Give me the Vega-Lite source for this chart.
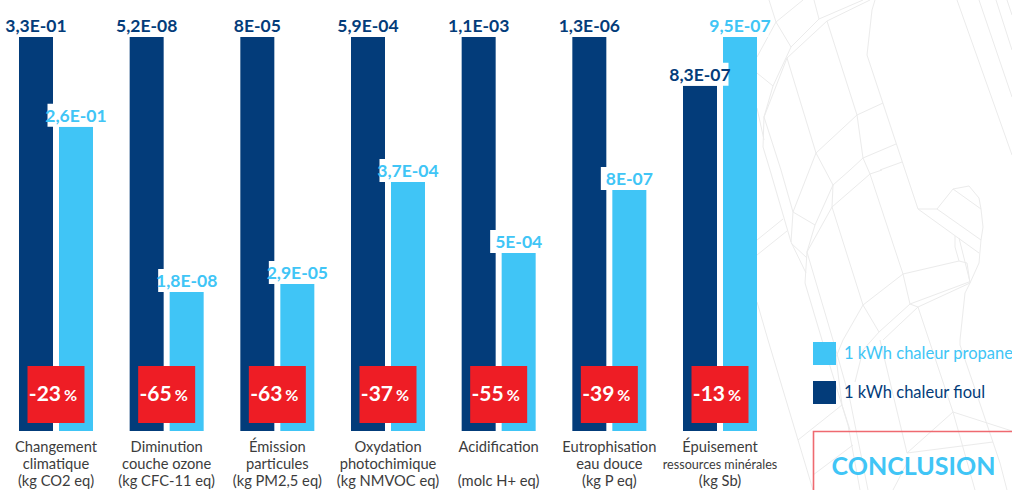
{"$schema":"https://vega.github.io/schema/vega-lite/v6.json","width":1012,"height":490,"padding":0,"autosize":{"type":"none"},"background":"white","config":{"view":{"stroke":null}},
"datasets":{
"barres":[
{"categorie":"cc","serie":"1 kWh chaleur fioul","indice":100,"valeur":"3,3E-01"},{"categorie":"cc","serie":"1 kWh chaleur propane","indice":77.2,"valeur":"2,6E-01"},
{"categorie":"co","serie":"1 kWh chaleur fioul","indice":100,"valeur":"5,2E-08"},{"categorie":"co","serie":"1 kWh chaleur propane","indice":35.3,"valeur":"1,8E-08"},
{"categorie":"ep","serie":"1 kWh chaleur fioul","indice":100,"valeur":"8E-05"},{"categorie":"ep","serie":"1 kWh chaleur propane","indice":37.3,"valeur":"2,9E-05"},
{"categorie":"op","serie":"1 kWh chaleur fioul","indice":100,"valeur":"5,9E-04"},{"categorie":"op","serie":"1 kWh chaleur propane","indice":63.2,"valeur":"3,7E-04"},
{"categorie":"ac","serie":"1 kWh chaleur fioul","indice":100,"valeur":"1,1E-03"},{"categorie":"ac","serie":"1 kWh chaleur propane","indice":45.2,"valeur":"5E-04"},
{"categorie":"eu","serie":"1 kWh chaleur fioul","indice":100,"valeur":"1,3E-06"},{"categorie":"eu","serie":"1 kWh chaleur propane","indice":61.2,"valeur":"8E-07"},
{"categorie":"rm","serie":"1 kWh chaleur fioul","indice":87.6,"valeur":"8,3E-07"},{"categorie":"rm","serie":"1 kWh chaleur propane","indice":100,"valeur":"9,5E-07"}],
"categories":[
{"categorie":"cc","ecart":"-23","l1":"Changement","l2":"climatique","l3":"(kg CO2 eq)"},
{"categorie":"co","ecart":"-65","l1":"Diminution","l2":"couche ozone","l3":"(kg CFC-11 eq)"},
{"categorie":"ep","ecart":"-63","l1":"Émission","l2":"particules","l3":"(kg PM2,5 eq)"},
{"categorie":"op","ecart":"-37","l1":"Oxydation","l2":"photochimique","l3":"(kg NMVOC eq)"},
{"categorie":"ac","ecart":"-55","l1":"Acidification","l2":" ","l3":"(molc H+ eq)"},
{"categorie":"eu","ecart":"-39","l1":"Eutrophisation","l2":"eau douce","l3":"(kg P eq)"},
{"categorie":"rm","ecart":"-13","l1":"Épuisement","l2":"ressources minérales","l3":"(kg Sb)"}],
"carte":[
{"t":1,"o":1,"lon":769,"lat":0},{"t":1,"o":2,"lon":776,"lat":22},{"t":1,"o":3,"lon":791,"lat":47},
{"t":2,"o":1,"lon":803,"lat":0},{"t":2,"o":2,"lon":776,"lat":22},{"t":2,"o":3,"lon":757,"lat":57},
{"t":3,"o":1,"lon":814,"lat":0},{"t":3,"o":2,"lon":819,"lat":19},{"t":3,"o":3,"lon":791,"lat":47},{"t":3,"o":4,"lon":773,"lat":86},{"t":3,"o":5,"lon":764,"lat":117},{"t":3,"o":6,"lon":763,"lat":147},{"t":3,"o":7,"lon":770,"lat":170},{"t":3,"o":8,"lon":791,"lat":242},{"t":3,"o":9,"lon":806,"lat":273},
{"t":4,"o":1,"lon":863,"lat":0},{"t":4,"o":2,"lon":819,"lat":19},
{"t":5,"o":1,"lon":870,"lat":0},{"t":5,"o":2,"lon":827,"lat":21},{"t":5,"o":3,"lon":787,"lat":58},{"t":5,"o":4,"lon":764,"lat":117},{"t":5,"o":5,"lon":781,"lat":170},{"t":5,"o":6,"lon":793,"lat":212},{"t":5,"o":7,"lon":791,"lat":242},
{"t":6,"o":1,"lon":757,"lat":73},{"t":6,"o":2,"lon":773,"lat":86},
{"t":7,"o":1,"lon":787,"lat":58},{"t":7,"o":2,"lon":816,"lat":153},{"t":7,"o":3,"lon":857,"lat":115},{"t":7,"o":4,"lon":883,"lat":103},
{"t":8,"o":1,"lon":827,"lat":21},{"t":8,"o":2,"lon":857,"lat":115},{"t":8,"o":3,"lon":863,"lat":158},{"t":8,"o":4,"lon":896,"lat":144},
{"t":9,"o":1,"lon":875,"lat":0},{"t":9,"o":2,"lon":872,"lat":10},{"t":9,"o":3,"lon":867,"lat":55},{"t":9,"o":4,"lon":905,"lat":170},{"t":9,"o":5,"lon":918,"lat":209},{"t":9,"o":6,"lon":937,"lat":209},{"t":9,"o":7,"lon":953,"lat":189},{"t":9,"o":8,"lon":969,"lat":186},{"t":9,"o":9,"lon":979,"lat":198},{"t":9,"o":10,"lon":981,"lat":209},{"t":9,"o":11,"lon":983,"lat":227},{"t":9,"o":12,"lon":981,"lat":240},{"t":9,"o":13,"lon":979,"lat":263},{"t":9,"o":14,"lon":970,"lat":283},{"t":9,"o":15,"lon":965,"lat":293},{"t":9,"o":16,"lon":960,"lat":340},{"t":9,"o":17,"lon":960,"lat":345},{"t":9,"o":18,"lon":973,"lat":383},{"t":9,"o":19,"lon":1000,"lat":463},{"t":9,"o":20,"lon":1007,"lat":490},
{"t":10,"o":1,"lon":850,"lat":170},{"t":10,"o":2,"lon":863,"lat":158},{"t":10,"o":3,"lon":870,"lat":174},{"t":10,"o":4,"lon":903,"lat":274},{"t":10,"o":5,"lon":910,"lat":304},{"t":10,"o":6,"lon":969,"lat":282},
{"t":11,"o":1,"lon":880,"lat":170},{"t":11,"o":2,"lon":902,"lat":162},
{"t":12,"o":1,"lon":816,"lat":153},{"t":12,"o":2,"lon":833,"lat":185},{"t":12,"o":3,"lon":815,"lat":225},{"t":12,"o":4,"lon":807,"lat":252},{"t":12,"o":5,"lon":805,"lat":283},{"t":12,"o":6,"lon":822,"lat":340},{"t":12,"o":7,"lon":848,"lat":425},{"t":12,"o":8,"lon":860,"lat":490},
{"t":13,"o":1,"lon":816,"lat":153},{"t":13,"o":2,"lon":793,"lat":212},{"t":13,"o":3,"lon":815,"lat":225},
{"t":14,"o":1,"lon":833,"lat":185},{"t":14,"o":2,"lon":850,"lat":170},
{"t":15,"o":1,"lon":833,"lat":185},{"t":15,"o":2,"lon":832,"lat":207},{"t":15,"o":3,"lon":870,"lat":174},{"t":15,"o":4,"lon":882,"lat":170},
{"t":16,"o":1,"lon":832,"lat":207},{"t":16,"o":2,"lon":807,"lat":252},{"t":16,"o":3,"lon":833,"lat":340},{"t":16,"o":4,"lon":850,"lat":400},{"t":16,"o":5,"lon":868,"lat":490},
{"t":17,"o":1,"lon":832,"lat":207},{"t":17,"o":2,"lon":863,"lat":305},{"t":17,"o":3,"lon":903,"lat":274},{"t":17,"o":4,"lon":959,"lat":261},{"t":17,"o":5,"lon":967,"lat":263},{"t":17,"o":6,"lon":970,"lat":283},{"t":17,"o":7,"lon":918,"lat":307},{"t":17,"o":8,"lon":910,"lat":304},
{"t":18,"o":1,"lon":863,"lat":305},{"t":18,"o":2,"lon":879,"lat":332},{"t":18,"o":3,"lon":910,"lat":304},
{"t":19,"o":1,"lon":918,"lat":307},{"t":19,"o":2,"lon":883,"lat":340},
{"t":20,"o":1,"lon":918,"lat":307},{"t":20,"o":2,"lon":953,"lat":412},{"t":20,"o":3,"lon":975,"lat":490},
{"t":21,"o":1,"lon":937,"lat":209},{"t":21,"o":2,"lon":981,"lat":240},
{"t":22,"o":1,"lon":953,"lat":189},{"t":22,"o":2,"lon":981,"lat":209},
{"t":23,"o":1,"lon":918,"lat":209},{"t":23,"o":2,"lon":979,"lat":253},
{"t":24,"o":1,"lon":955,"lat":236},{"t":24,"o":2,"lon":955,"lat":247},{"t":24,"o":3,"lon":959,"lat":261},
{"t":25,"o":1,"lon":959,"lat":238},{"t":25,"o":2,"lon":970,"lat":282},
{"t":26,"o":1,"lon":757,"lat":240},{"t":26,"o":2,"lon":783,"lat":219},
{"t":27,"o":1,"lon":757,"lat":255},{"t":27,"o":2,"lon":787,"lat":231},
{"t":28,"o":1,"lon":791,"lat":243},{"t":28,"o":2,"lon":807,"lat":258},
{"t":29,"o":1,"lon":757,"lat":302},{"t":29,"o":2,"lon":768,"lat":340},{"t":29,"o":3,"lon":798,"lat":440},{"t":29,"o":4,"lon":813,"lat":490},
{"t":30,"o":1,"lon":798,"lat":440},{"t":30,"o":2,"lon":842,"lat":405},
{"t":31,"o":1,"lon":863,"lat":305},{"t":31,"o":2,"lon":843,"lat":340},{"t":31,"o":3,"lon":836,"lat":357},{"t":31,"o":4,"lon":842,"lat":405},{"t":31,"o":5,"lon":850,"lat":430},
{"t":32,"o":1,"lon":879,"lat":332},{"t":32,"o":2,"lon":863,"lat":350},{"t":32,"o":3,"lon":855,"lat":382},
{"t":33,"o":1,"lon":880,"lat":340},{"t":33,"o":2,"lon":907,"lat":453},{"t":33,"o":3,"lon":953,"lat":412},
{"t":34,"o":1,"lon":907,"lat":453},{"t":34,"o":2,"lon":993,"lat":442},
{"t":35,"o":1,"lon":813,"lat":475},{"t":35,"o":2,"lon":853,"lat":445},
{"t":36,"o":1,"lon":907,"lat":463},{"t":36,"o":2,"lon":893,"lat":490},
{"t":37,"o":1,"lon":953,"lat":412},{"t":37,"o":2,"lon":1012,"lat":431},
{"t":38,"o":1,"lon":957,"lat":0},{"t":38,"o":2,"lon":1012,"lat":155},
{"t":39,"o":1,"lon":979,"lat":0},{"t":39,"o":2,"lon":1012,"lat":97},
{"t":40,"o":1,"lon":996,"lat":0},{"t":40,"o":2,"lon":1012,"lat":50},
{"t":41,"o":1,"lon":1007,"lat":0},{"t":41,"o":2,"lon":1012,"lat":15},
{"t":43,"o":1,"lon":757,"lat":108},{"t":43,"o":2,"lon":764,"lat":140}]
},
"resolve":{"scale":{"x":"independent","y":"independent"}},
"layer":[
{"layer":[
{"data":{"name":"carte"},"mark":{"type":"line","color":"#ebebeb","strokeWidth":1,"interpolate":"linear"},
"encoding":{"x":{"field":"lon","type":"quantitative","axis":null,"scale":{"domain":[0,1012],"nice":false,"zero":false}},"y":{"field":"lat","type":"quantitative","axis":null,"scale":{"domain":[490,0],"nice":false,"zero":false}},"detail":{"field":"t"},"order":{"field":"o"}}},
{"data":{"values":[{"cadre":"CONCLUSION"}]},"mark":{"type":"rect","fillOpacity":0,"stroke":"#ef6a70","strokeWidth":1.6},
"encoding":{"x":{"datum":813.5,"type":"quantitative"},"x2":{"datum":1030},"y":{"datum":431.5,"type":"quantitative"},"y2":{"datum":520}}},
{"data":{"values":[{"cadre":"CONCLUSION"}]},"mark":{"type":"text","font":"Lato","fontWeight":"bold","fontSize":25,"color":"#40c5f6","align":"center","baseline":"alphabetic"},
"encoding":{"text":{"field":"cadre"},"x":{"datum":913.5,"type":"quantitative"},"y":{"datum":475,"type":"quantitative"}}}
]},
{"layer":[
{"data":{"name":"barres"},"mark":{"type":"bar"},
"encoding":{"x":{"field":"categorie","type":"nominal","axis":null,"sort":null,"scale":{"domain":["cc","co","ep","op","ac","eu","rm"],"range":[0.67,775.33],"paddingInner":0.3313,"paddingOuter":0.1656}},
"xOffset":{"field":"serie","type":"nominal","scale":{"domain":["1 kWh chaleur fioul","1 kWh chaleur propane"],"paddingInner":0.15,"paddingOuter":0}},
"y":{"field":"indice","type":"quantitative","axis":null,"scale":{"domain":[-14.97,109.39],"nice":false,"zero":false}},
"color":{"field":"serie","type":"nominal","scale":{"domain":["1 kWh chaleur propane","1 kWh chaleur fioul"],"range":["#40c5f6","#033c7a"]},
"legend":{"title":null,"orient":"none","legendX":813,"legendY":342,"padding":0,"symbolType":"square","symbolSize":529,"symbolStrokeWidth":0,"symbolOpacity":1,"labelFont":"Lato","labelFontSize":16.5,"labelLimit":300,"labelOffset":8,"rowPadding":16,"encode":{"labels":{"update":{"fill":{"signal":"datum.value==='1 kWh chaleur propane'?'#40c5f6':'#033c7a'"}}}}}}}},
{"data":{"name":"barres"},"mark":{"type":"tick","size":57,"thickness":23,"color":"white","opacity":1,"yOffset":-11.5},
"encoding":{"x":{"field":"categorie","type":"nominal"},"xOffset":{"field":"serie","type":"nominal"},"y":{"field":"indice","type":"quantitative"}}},
{"data":{"name":"barres"},"mark":{"type":"text","font":"Lato","fontWeight":"bold","fontSize":17.5,"align":"center","baseline":"alphabetic","dy":-5},
"encoding":{"x":{"field":"categorie","type":"nominal"},"xOffset":{"field":"serie","type":"nominal"},"y":{"field":"indice","type":"quantitative"},"text":{"field":"valeur"},"color":{"field":"serie","type":"nominal","legend":null}}},
{"data":{"name":"categories"},"mark":{"type":"rect","width":57,"color":"#ee1d25"},
"encoding":{"x":{"field":"categorie","type":"nominal"},"y":{"datum":16.5,"type":"quantitative"},"y2":{"datum":2.03}}},
{"data":{"name":"categories"},"mark":{"type":"text","font":"Lato","fontWeight":"bold","fontSize":21,"color":"white","align":"right","baseline":"middle","dx":5},
"encoding":{"x":{"field":"categorie","type":"nominal"},"y":{"datum":9.25,"type":"quantitative"},"text":{"field":"ecart"}}},
{"data":{"name":"categories"},"mark":{"type":"text","font":"Lato","fontWeight":"bold","fontSize":16,"color":"white","align":"left","baseline":"middle","dx":8},
"encoding":{"x":{"field":"categorie","type":"nominal"},"y":{"datum":9.0,"type":"quantitative"},"text":{"value":"%"}}},
{"data":{"name":"categories"},"mark":{"type":"text","font":"Lato","color":"#3c3c3c","align":"center","baseline":"middle"},
"encoding":{"x":{"field":"categorie","type":"nominal"},"y":{"datum":-4.3,"type":"quantitative"},"text":{"field":"l1"},"size":{"value":14.7}}},
{"data":{"name":"categories"},"mark":{"type":"text","font":"Lato","color":"#3c3c3c","align":"center","baseline":"middle"},
"encoding":{"x":{"field":"categorie","type":"nominal"},"y":{"datum":-8.6,"type":"quantitative"},"text":{"field":"l2"},"size":{"condition":{"test":"datum.categorie==='rm'","value":12.6},"value":14.7}}},
{"data":{"name":"categories"},"mark":{"type":"text","font":"Lato","color":"#3c3c3c","align":"center","baseline":"middle"},
"encoding":{"x":{"field":"categorie","type":"nominal"},"y":{"datum":-12.9,"type":"quantitative"},"text":{"field":"l3"},"size":{"value":14.7}}}
]}
]}
